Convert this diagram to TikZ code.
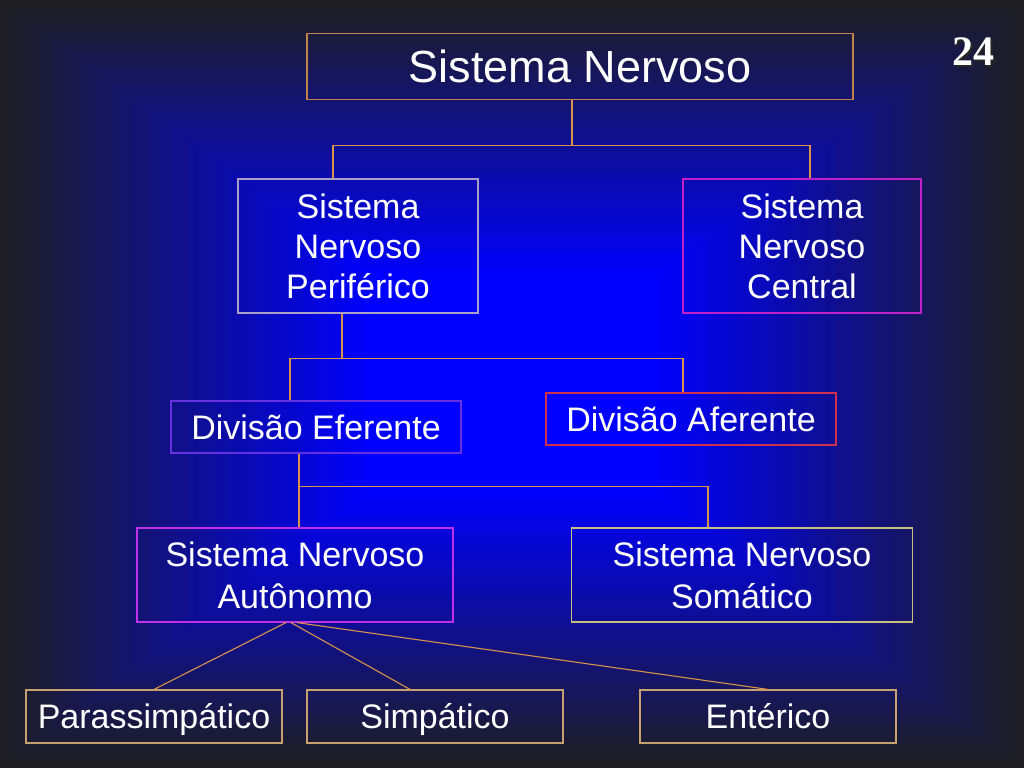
\documentclass[tikz,border=0pt]{standalone}
\usepackage{fontspec}
\setmainfont{Liberation Sans}
\newfontfamily\numfont{Liberation Serif}
\definecolor{bgdark}{HTML}{1E1E22}
\definecolor{bgblue}{HTML}{0000FF}
\definecolor{conncol}{HTML}{D8924A}
\definecolor{bTop}{HTML}{C08448}
\definecolor{bSNP}{HTML}{A8A0C8}
\definecolor{bSNC}{HTML}{C020C8}
\definecolor{bDEF}{HTML}{6430E0}
\definecolor{bDAF}{HTML}{D03050}
\definecolor{bSNA}{HTML}{C030E8}
\definecolor{bSNS}{HTML}{C8C080}
\definecolor{bLow}{HTML}{C8A070}
\tikzset{
  box/.style={draw, line width=1.2pt, inner sep=0pt, text=white, align=center,
    font=\fontsize{34}{40}\selectfont},
  onebox/.style={box, text height=24.4pt, text depth=0pt},
  conn/.style={draw=conncol, line width=1.1pt},
}
\begin{document}
\begin{tikzpicture}[x=1pt,y=-1pt]
\useasboundingbox (0,0) rectangle (1024,768);
% background rectangular gradient
\foreach \k in {0,...,66}{
  \pgfmathsetmacro{\t}{\k/90}
  \pgfmathtruncatemacro{\f}{min(100,140*\t)}
  \fill[bgblue!\f!bgdark] (512*\t,384*\t) rectangle (1024-512*\t,768-384*\t);
}
% nodes
\node[box, draw=bTop, minimum width=546pt, minimum height=66pt,
  text height=32.3pt, text depth=0pt,
  font=\fontsize{45}{50}\selectfont] (top) at (580,66.5) {Sistema Nervoso};
\node[box, draw=bSNP, minimum width=240pt, minimum height=134pt] (snp) at (358,246)
  {Sistema\\Nervoso\\Periférico};
\node[box, draw=bSNC, minimum width=238pt, minimum height=134pt] (snc) at (802,246)
  {Sistema\\Nervoso\\Central};
\node[onebox, draw=bDEF, minimum width=290pt, minimum height=52pt] (def) at (316,427)
  {Divisão Eferente};
\node[onebox, draw=bDAF, minimum width=290pt, minimum height=52pt] (daf) at (691,419)
  {Divisão Aferente};
\node[box, draw=bSNA, minimum width=316pt, minimum height=94pt,
  font=\fontsize{34}{42}\selectfont] (sna) at (295,575) {Sistema Nervoso\\Autônomo};
\node[box, draw=bSNS, minimum width=341pt, minimum height=94pt,
  font=\fontsize{34}{42}\selectfont] (sns) at (742,575) {Sistema Nervoso\\Somático};
\node[onebox, draw=bLow, minimum width=256pt, minimum height=53pt] (par) at (154,716.5)
  {Parassimpático};
\node[onebox, draw=bLow, minimum width=256pt, minimum height=53pt] (simp) at (435,716.5)
  {Simpático};
\node[onebox, draw=bLow, minimum width=256pt, minimum height=53pt] (ent) at (768,716.5)
  {Entérico};
% page number
\node[text=black!85, font=\numfont\bfseries\fontsize{42}{42}\selectfont] (numshadow) at (975,54) {24};
\node[text=white, font=\numfont\bfseries\fontsize{42}{42}\selectfont] (num) at (973,52) {24};
% connectors
\draw[conn] ([xshift=-8pt]top.south) -- ++(0,45) coordinate (j1);
\draw[conn] ([xshift=-25pt]snp.north) |- (j1) -| ([xshift=8pt]snc.north);
\draw[conn] ([xshift=-16pt]snp.south) -- ++(0,45) coordinate (j2);
\draw[conn] ([xshift=-26pt]def.north) |- (j2) -| ([xshift=-8pt]daf.north);
\draw[conn] ([xshift=-17pt]def.south) -- ([xshift=4pt]sna.north);
\coordinate (j3) at ([xshift=-17pt,yshift=-33pt]def.south);
\draw[conn] (j3) -| ([xshift=-34pt]sns.north);
\draw[conn] ([xshift=-9pt]sna.south) -- (par.north);
\draw[conn] ([xshift=-4pt]sna.south) -- ([xshift=-25pt]simp.north);
\draw[conn] ([xshift=2pt]sna.south) -- (ent.north);
\end{tikzpicture}
\end{document}
